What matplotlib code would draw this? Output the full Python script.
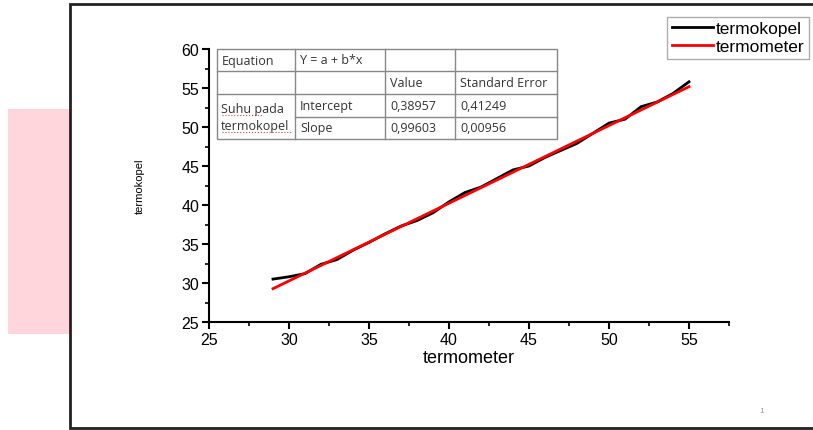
import numpy as np
import matplotlib
matplotlib.use("Agg")
import matplotlib.pyplot as plt
from matplotlib.patches import Rectangle
from matplotlib.ticker import MultipleLocator

plt.rcParams['font.family'] = ['Liberation Sans', 'DejaVu Sans']

termometer = [29, 30, 31, 32, 33, 34, 35, 36, 37, 38, 39, 40, 41, 42,
              43, 44, 45, 46, 47, 48, 49, 50, 51, 52, 53, 54, 55]
termokopel = [30.5, 30.8, 31.2, 32.4, 33.0, 34.2, 35.2, 36.3, 37.3, 38.0,
              39.0, 40.4, 41.6, 42.3, 43.4, 44.5, 45.0, 46.1, 47.0, 47.9,
              49.2, 50.5, 51.0, 52.6, 53.2, 54.3, 55.8]

# linear fit result shown in the table
intercept = 0.38957
slope = 0.99603

table_rows = [
    ["Equation", "Y = a + b*x", "", ""],
    ["", "", "Value", "Standard Error"],
    ["", "Intercept", "0,38957", "0,41249"],
    ["", "Slope", "0,99603", "0,00956"],
]
group_label = "Suhu pada\ntermokopel"

W, H = 813, 431
fig = plt.figure(figsize=(W / 100, H / 100), dpi=100)


def fx(px):
    return px / W


def fy(py):
    return 1 - py / H


# pink shape on the left and the slide frame
fig.patches.append(Rectangle((fx(8), fy(335)), fx(62), (335 - 110) / H,
                             transform=fig.transFigure, facecolor='#ffd6db',
                             edgecolor='none', zorder=0))
fig.patches.append(Rectangle((fx(70), fy(429)), fx(760), (429 - 5) / H,
                             transform=fig.transFigure, facecolor='white',
                             edgecolor='#222222', linewidth=2, zorder=1))

ax = fig.add_axes([fx(209), fy(323), fx(729 - 209), (323 - 50) / H])
ax.set_zorder(2)
ax.patch.set_alpha(0)

ax.plot(termometer, termokopel, color='black', lw=2, label='termokopel')
fit = [intercept + slope * t for t in termometer]
ax.plot(termometer, fit, color='#ff0000', lw=2, label='termometer')

ax.set_xlim(25, 57.5)
ax.set_ylim(25, 60)
ax.xaxis.set_major_locator(MultipleLocator(5))
ax.xaxis.set_minor_locator(MultipleLocator(2.5))
ax.yaxis.set_major_locator(MultipleLocator(5))
ax.yaxis.set_minor_locator(MultipleLocator(2.5))
for s in ['top', 'right']:
    ax.spines[s].set_visible(False)
for s in ['left', 'bottom']:
    ax.spines[s].set_linewidth(1.5)
ax.tick_params(which='major', direction='out', length=5, width=1.5,
               labelsize=11.5, pad=2)
ax.tick_params(which='minor', direction='out', length=3, width=1.2)

ax.set_xlabel('termometer', fontsize=13, labelpad=2)
ax.set_ylabel('termokopel', fontsize=8, labelpad=26)

leg = fig.legend(loc='upper right', bbox_to_anchor=(fx(809), fy(18)),
                 fontsize=12.5, frameon=True, fancybox=False, handlelength=2.4,
                 handletextpad=0.15, borderpad=0.25, labelspacing=0.15,
                 borderaxespad=0)
leg.get_frame().set_edgecolor('#999999')
leg.get_frame().set_linewidth(1)
leg.set_zorder(5)

# results table
col_x = [217, 295, 385, 455, 557]
row_y = [50, 72, 95, 118, 140]
lc = '#888888'
fs = 9
fig.patches.append(Rectangle((fx(217), fy(140)), fx(340), 90 / H,
                             transform=fig.transFigure, facecolor='white',
                             edgecolor=lc, linewidth=1, zorder=3))
for x in col_x[1:-1]:
    fig.add_artist(plt.Line2D([fx(x), fx(x)], [fy(50), fy(140)], color=lc,
                              lw=1, zorder=4))
for i, y in enumerate(row_y[1:-1]):
    x0 = 217 if i < 2 else 295
    fig.add_artist(plt.Line2D([fx(x0), fx(557)], [fy(y), fy(y)], color=lc,
                              lw=1, zorder=4))
for r, row in enumerate(table_rows):
    for c, txt in enumerate(row):
        if txt:
            fig.text(fx(col_x[c] + 5), fy((row_y[r] + row_y[r + 1]) / 2), txt,
                     fontsize=fs, color='#333333', va='center', ha='left',
                     family=['Open Sans', 'DejaVu Sans'], zorder=5)
fig.text(fx(221), fy(118), group_label, fontsize=fs, color='#333333',
         va='center', ha='left', linespacing=1.35,
         family=['Open Sans', 'DejaVu Sans'], zorder=5)
fig.add_artist(plt.Line2D([fx(222), fx(263)], [fy(116), fy(116)],
                          color='#e04040', lw=0.8, ls=':', zorder=5))
fig.add_artist(plt.Line2D([fx(222), fx(291)], [fy(133), fy(133)],
                          color='#e04040', lw=0.8, ls=':', zorder=5))

fig.text(fx(762), fy(412), '1', fontsize=6, color='#999999', ha='center',
         va='center')

fig.savefig('out.png', dpi=100)
